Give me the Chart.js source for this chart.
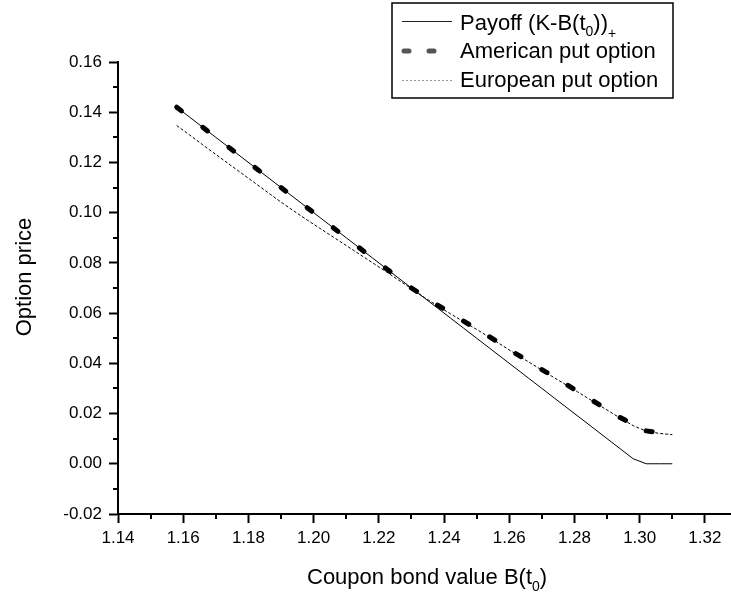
<!DOCTYPE html>
<html>
<head>
<meta charset="utf-8">
<title>Option price</title>
<script src="https://cdn.jsdelivr.net/npm/chart.js@4.4.0/dist/chart.umd.min.js"></script>
<style>
  html, body { margin: 0; padding: 0; background: #fff; }
  #wrap { width: 731px; height: 596px; }
</style>
</head>
<body>
<div id="wrap"><canvas id="graph" width="731" height="596"></canvas></div>
<script>
// bond values B(t0), fine grid
var bondValues = [
  1.158, 1.162, 1.166, 1.170, 1.174, 1.178, 1.182, 1.186, 1.190, 1.194,
  1.198, 1.202, 1.206, 1.210, 1.214, 1.218, 1.222, 1.226, 1.230, 1.234,
  1.238, 1.242, 1.246, 1.250, 1.254, 1.258, 1.262, 1.266, 1.270, 1.274,
  1.278, 1.282, 1.286, 1.290, 1.294, 1.298, 1.302, 1.306, 1.310
];
var payoff = [
  0.142, 0.138, 0.134, 0.130, 0.126, 0.122, 0.118, 0.114, 0.110, 0.106,
  0.102, 0.098, 0.094, 0.090, 0.086, 0.082, 0.078, 0.074, 0.070, 0.066,
  0.062, 0.058, 0.054, 0.050, 0.046, 0.042, 0.038, 0.034, 0.030, 0.026,
  0.022, 0.018, 0.014, 0.010, 0.006, 0.002, 0.000, 0.000, 0.000
];
var european = [
  0.1347, 0.1309, 0.1270, 0.1232, 0.1194, 0.1156, 0.1118, 0.1080, 0.1042, 0.1006,
  0.0971, 0.0937, 0.0903, 0.0869, 0.0835, 0.0801, 0.0767, 0.0732, 0.0697, 0.0662,
  0.0629, 0.0597, 0.0566, 0.0535, 0.0503, 0.0470, 0.0437, 0.0405, 0.0373, 0.0341,
  0.0310, 0.0278, 0.0246, 0.0214, 0.0182, 0.0152, 0.0130, 0.0121, 0.0116
];
// american price only on every second grid point
var americanBond = [
  1.158, 1.166, 1.174, 1.182, 1.190, 1.198, 1.206, 1.214, 1.222, 1.230,
  1.238, 1.246, 1.254, 1.262, 1.270, 1.278, 1.286, 1.294, 1.302, 1.310
];
var american = [
  0.142, 0.134, 0.126, 0.118, 0.110, 0.102, 0.094, 0.086, 0.078, 0.070,
  0.0632, 0.0568, 0.0505, 0.0439, 0.0375, 0.0312, 0.0248, 0.0184, 0.0131, 0.0116
];

var xTicks = [1.14, 1.16, 1.18, 1.20, 1.22, 1.24, 1.26, 1.28, 1.30, 1.32];
var yTicks = [-0.02, 0.00, 0.02, 0.04, 0.06, 0.08, 0.10, 0.12, 0.14, 0.16];

var fontFamily = '"Liberation Sans", Arial, Helvetica, sans-serif';

function points(xs, ys){
  var out = [];
  for(var i = 0; i < xs.length; i++){
    out.push({x: xs[i], y: ys[i]});
  }
  return out;
}

function midpoints(arr){
  var out = [];
  for(var i = 0; i < arr.length - 1; i++){
    out.push((arr[i] + arr[i+1]) / 2);
  }
  return out;
}

// text run with lowered small parts, e.g. B(t0)
function drawRun(ctx, parts, x, y){
  for(var i = 0; i < parts.length; i++){
    var p = parts[i];
    ctx.font = (p.sub ? 14 : 22) + 'px ' + fontFamily;
    ctx.fillText(p.t, x, y + (p.sub || 0));
    x += ctx.measureText(p.t).width;
  }
}

// minor ticks, axis titles and the legend box
var decorations = {
  id: 'decorations',
  afterDraw: function(chart){
    var ctx = chart.ctx;
    var xs = chart.scales.x, ys = chart.scales.y;
    ctx.save();

    ctx.strokeStyle = '#000';
    ctx.lineWidth = 2;
    ctx.beginPath();
    midpoints(xTicks).forEach(function(v){
      var px = Math.round(xs.getPixelForValue(v));
      ctx.moveTo(px, xs.top);
      ctx.lineTo(px, xs.top + 5);
    });
    midpoints(yTicks).forEach(function(v){
      var py = Math.round(ys.getPixelForValue(v));
      ctx.moveTo(ys.right, py);
      ctx.lineTo(ys.right - 5, py);
    });
    ctx.stroke();

    ctx.fillStyle = '#000';
    ctx.textAlign = 'left';
    ctx.textBaseline = 'alphabetic';
    drawRun(ctx, [{t: 'Coupon bond value B(t'}, {t: '0', sub: 7}, {t: ')'}], 307, 584);

    ctx.save();
    ctx.translate(31, 277);
    ctx.rotate(-Math.PI / 2);
    ctx.textAlign = 'center';
    ctx.font = '22px ' + fontFamily;
    ctx.fillText('Option price', 0, 0);
    ctx.restore();

    // legend
    ctx.lineWidth = 1.5;
    ctx.strokeRect(392, 3, 281, 95);

    ctx.lineWidth = 1;
    ctx.strokeStyle = '#222';
    ctx.beginPath();
    ctx.moveTo(402, 21.5);
    ctx.lineTo(452, 21.5);
    ctx.stroke();

    ctx.lineWidth = 5;
    ctx.lineCap = 'round';
    ctx.strokeStyle = '#555';
    ctx.setLineDash([5, 20]);
    ctx.beginPath();
    ctx.moveTo(404, 51);
    ctx.lineTo(436, 51);
    ctx.stroke();

    ctx.lineWidth = 1;
    ctx.lineCap = 'butt';
    ctx.strokeStyle = '#999';
    ctx.setLineDash([2, 2]);
    ctx.beginPath();
    ctx.moveTo(402, 80.5);
    ctx.lineTo(452, 80.5);
    ctx.stroke();
    ctx.setLineDash([]);

    drawRun(ctx, [{t: 'Payoff (K-B(t'}, {t: '0', sub: 6}, {t: '))'}, {t: '+', sub: 8}], 460, 30);
    drawRun(ctx, [{t: 'American put option'}], 460, 58);
    drawRun(ctx, [{t: 'European put option'}], 460, 87);

    ctx.restore();
  }
};

function graph(){
  Chart.defaults.color = '#000';
  Chart.defaults.font.family = fontFamily;

  var config = {
    type: 'line',
    data: {
      datasets: [
        {
          label: 'American put option',
          data: points(americanBond, american),
          borderColor: '#000',
          borderWidth: 5,
          borderDash: [6, 40],
          borderCapStyle: 'round',
          pointRadius: 0,
          tension: 0,
          // alternating offsets break the path at every point, so each segment starts with a dash
          segment: {
            borderDashOffset: function(c){ return (c.p0DataIndex % 2) * 0.01; }
          }
        },
        {
          label: 'Payoff',
          data: points(bondValues, payoff),
          borderColor: '#000',
          borderWidth: 1,
          pointRadius: 0,
          tension: 0
        },
        {
          label: 'European put option',
          data: points(bondValues, european),
          borderColor: '#000',
          borderWidth: 1,
          borderDash: [3, 2],
          pointRadius: 0,
          tension: 0
        }
      ]
    },
    options: {
      responsive: false,
      animation: false,
      devicePixelRatio: 1,
      layout: { padding: { top: 62, right: 0, left: 0, bottom: 0 } },
      plugins: {
        legend: { display: false },
        tooltip: { enabled: false }
      },
      scales: {
        x: {
          type: 'linear',
          min: 1.14,
          max: 1.328,
          afterBuildTicks: function(s){ s.ticks = xTicks.map(function(v){ return {value: v}; }); },
          afterFit: function(s){ s.height = 82; },
          border: { display: true, color: '#000', width: 2 },
          grid: { drawOnChartArea: false, drawTicks: true, tickLength: 9, tickWidth: 2, tickColor: '#000' },
          ticks: {
            autoSkip: false,
            maxRotation: 0,
            padding: 5,
            font: { size: 17 },
            callback: function(v){ return v.toFixed(2); }
          }
        },
        y: {
          type: 'linear',
          min: -0.02,
          max: 0.16,
          afterBuildTicks: function(s){ s.ticks = yTicks.map(function(v){ return {value: v}; }); },
          afterFit: function(s){ s.width = 118; },
          border: { display: true, color: '#000', width: 2 },
          grid: { drawOnChartArea: false, drawTicks: true, tickLength: 9, tickWidth: 2, tickColor: '#000' },
          ticks: {
            padding: 7,
            font: { size: 17 },
            callback: function(v){ return v.toFixed(2); }
          }
        }
      }
    },
    plugins: [decorations]
  };

  new Chart(document.getElementById('graph'), config);
}

graph();
</script>
</body>
</html>
